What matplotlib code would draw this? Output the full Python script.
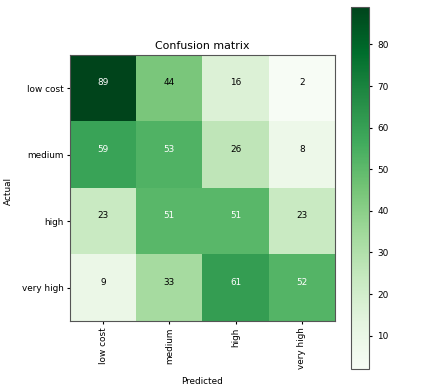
import matplotlib
matplotlib.use("Agg")
import matplotlib.pyplot as plt
import numpy as np

classes = ["low cost", "medium", "high", "very high"]
row_low_cost = [89, 44, 16, 2]
row_medium = [59, 53, 26, 8]
row_high = [23, 51, 51, 23]
row_very_high = [9, 33, 61, 52]

cm = np.array([row_low_cost, row_medium, row_high, row_very_high])

fs = 6.4
fig = plt.figure(figsize=(4.25, 3.85), dpi=100)
ax = fig.add_axes([70 / 425, 1 - 321 / 385, 265 / 425, 266 / 385])
cax = fig.add_axes([351 / 425, 1 - 369 / 385, 18 / 425, 362 / 385])

im = ax.imshow(cm, interpolation="nearest", cmap=plt.cm.Greens, aspect="auto")
ax.set_title("Confusion matrix", fontsize=7.9, pad=4)
cb = fig.colorbar(im, cax=cax)
cb.ax.tick_params(labelsize=fs, length=2.5)
cb.outline.set_edgecolor("#555555")

ticks = np.arange(len(classes))
ax.set_xticks(ticks)
ax.set_xticklabels(classes, rotation=90, fontsize=fs)
ax.set_yticks(ticks)
ax.set_yticklabels(classes, fontsize=fs)
ax.tick_params(length=2.5, pad=2)
for s in ax.spines.values():
    s.set_edgecolor("#555555")

thresh = cm.max() / 2.0
for i in range(cm.shape[0]):
    for j in range(cm.shape[1]):
        ax.text(j, i - 0.08, format(cm[i, j], "d"),
                ha="center", va="center", fontsize=fs,
                color="white" if cm[i, j] > thresh else "black")

ax.set_ylabel("Actual", fontsize=fs)
ax.set_xlabel("Predicted", fontsize=fs)
ax.yaxis.set_label_coords(-0.215, 0.49)
ax.xaxis.set_label_coords(0.497, -0.21)

fig.savefig("out.png", dpi=100)
